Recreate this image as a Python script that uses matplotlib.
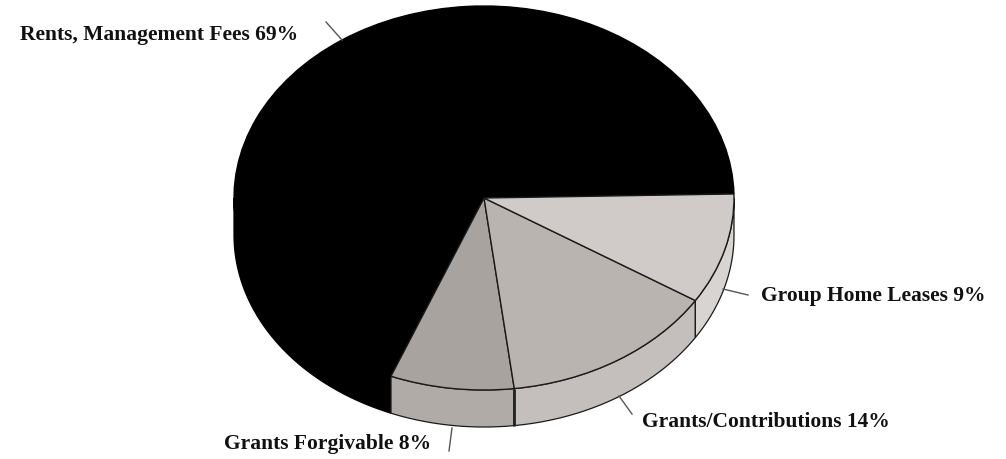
import numpy as np
import matplotlib
matplotlib.use("Agg")
import matplotlib.pyplot as plt
from matplotlib.patches import Polygon

labels = ["Rents, Management Fees 69%", "Grants Forgivable 8%",
          "Grants/Contributions 14%", "Group Home Leases 9%"]
values = [68.6, 8.0, 14.1, 9.3]
top_colors = ["#000000", "#a9a3a0", "#bab4b1", "#d0cbc8"]
wall_colors = ["#000000", "#b1aba8", "#c4bfbc", "#d8d4d1"]
edge_colors = ["#000000", "#1a1a1a", "#1a1a1a", "#1a1a1a"]

W, H = 1006, 459
CX, CY, RX, RY, DEPTH = 484, 198, 250, 192, 37
START = 1.2

def ux(px): return (px - CX) / RX
def uy(py): return (CY - py) / RY

fig = plt.figure(figsize=(W / 100, H / 100), dpi=100, facecolor="white")
ax = fig.add_axes([0, 0, 1, 1])

bounds = START + np.concatenate([[0], np.cumsum(values)]) * 3.6
d = DEPTH / RY

# side walls: only the front half (180..360 deg) is visible
for v0, v1, col, ec in zip(bounds[:-1], bounds[1:], wall_colors, edge_colors):
    a0, a1 = max(v0, 180), min(v1, 360)
    if a1 <= a0:
        continue
    t = np.radians(np.linspace(a0, a1, 80))
    xs = np.cos(t)
    ys = np.sin(t)
    pts = np.r_[np.c_[xs, ys], np.c_[xs[::-1], ys[::-1] - d]]
    ax.add_patch(Polygon(pts, closed=True, facecolor=col, edgecolor=ec,
                         linewidth=0.9, zorder=1))

# thick seam between the two middle slices on the wall
t = np.radians(bounds[2])
ax.plot([np.cos(t)] * 2, [np.sin(t), np.sin(t) - d], color="#222222", lw=2.0,
        zorder=1.5, solid_capstyle="butt")

# top face
wedges, _ = ax.pie(values, colors=top_colors, startangle=START, counterclock=True,
                   radius=1, wedgeprops=dict(linewidth=1.0, zorder=2), frame=False)
for w, ec in zip(wedges, edge_colors):
    w.set_edgecolor(ec)

ax.set_aspect("auto")
ax.set_xlim(ux(0), ux(W))
ax.set_ylim(uy(H), uy(0))
ax.axis("off")

# leader lines
leaders = [((326, 22), (342, 40)), ((449, 451), (452, 428)),
           ((619, 396), (632, 414)), ((723, 289), (748, 295))]
for (x0, y0), (x1, y1) in leaders:
    ax.plot([ux(x0), ux(x1)], [uy(y0), uy(y1)], color="#555555", lw=1.0, zorder=3)

# labels (left, vertical centre in pixels)
label_pos = [(20, 35), (224, 444), (642, 422), (761, 296)]
for lab, (x, y) in zip(labels, label_pos):
    ax.text(ux(x), uy(y), lab, family="Liberation Serif", weight="bold",
            fontsize=15.5, color="#111111", ha="left", va="center", zorder=4)

fig.savefig("out.png", dpi=100, facecolor="white")
